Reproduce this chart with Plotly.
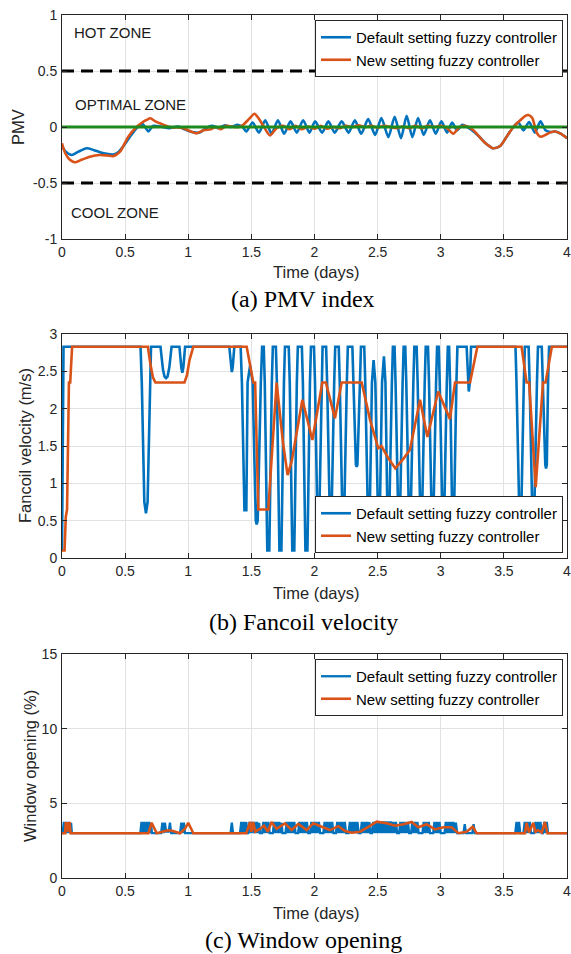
import plotly.graph_objects as go

# ---------------- data ----------------
# (a) PMV index
pmv_default_t = [0.000, 0.030, 0.077, 0.130, 0.195, 0.250, 0.300, 0.354, 0.406, 0.450, 0.500, 0.550,
                 0.600, 0.640, 0.684, 0.720, 0.780, 0.850, 0.920, 0.970, 1.030, 1.090, 1.140, 1.190,
                 1.240, 1.290, 1.340, 1.390, 1.430,
                 1.460, 1.510, 1.560, 1.610, 1.660, 1.710, 1.760, 1.810, 1.860, 1.910, 1.960, 2.005,
                 2.060, 2.110, 2.160, 2.215, 2.270, 2.320, 2.370, 2.425, 2.480, 2.530, 2.585, 2.635,
                 2.685, 2.730, 2.775, 2.820, 2.865, 2.915, 2.960, 3.005, 3.050, 3.090, 3.130, 3.170,
                 3.210, 3.250, 3.300, 3.350, 3.416, 3.470, 3.520, 3.575, 3.615, 3.655, 3.700, 3.745,
                 3.790, 3.830, 3.870, 3.910, 3.950, 4.000]
pmv_default_v = [-0.17, -0.22, -0.25, -0.22, -0.19, -0.205, -0.225, -0.24, -0.245, -0.22, -0.15, -0.07,
                 0.00, 0.025, -0.04, 0.01, 0.005, -0.01, 0.005, -0.02, -0.045, -0.05, -0.01, 0.01,
                 -0.01, 0.015, 0.00, 0.02, 0.00,
                 -0.04, 0.04, -0.05, 0.06, -0.06, 0.06, -0.06, 0.05, -0.05, 0.06, -0.05, 0.05,
                 -0.05, 0.05, -0.05, 0.05, -0.05, 0.06, -0.06, 0.07, -0.07, 0.08, -0.09, 0.09,
                 -0.10, 0.10, -0.09, 0.08, -0.07, 0.06, -0.06, 0.05, -0.05, 0.04, -0.03, 0.02,
                 0.00, -0.03, -0.08, -0.14, -0.19, -0.17, -0.09, 0.00, 0.04, -0.03, 0.045, -0.05,
                 0.05, -0.03, -0.045, -0.04, -0.06, -0.10]

pmv_new_t = [0.000, 0.024, 0.060, 0.103, 0.160, 0.220, 0.300, 0.360, 0.406, 0.460, 0.525, 0.590,
             0.635, 0.670, 0.700, 0.740, 0.776, 0.855, 0.960, 1.020, 1.067, 1.120, 1.180, 1.220,
             1.260, 1.300, 1.360, 1.400, 1.436, 1.480, 1.525, 1.555, 1.590, 1.647, 1.700, 1.754,
             1.800, 1.850, 1.900, 1.950, 2.000, 2.050, 2.100, 2.150, 2.200, 2.250, 2.300, 2.350,
             2.400, 2.450, 2.500, 2.550, 2.600, 2.650, 2.700, 2.750, 2.800, 2.850, 2.900, 2.950,
             3.000, 3.050, 3.100, 3.140, 3.180, 3.220, 3.260, 3.300, 3.350, 3.416, 3.470, 3.520,
             3.575, 3.630, 3.670, 3.695, 3.725, 3.760, 3.790, 3.830, 3.865, 3.905, 3.950, 4.000]
pmv_new_v = [-0.146, -0.23, -0.29, -0.315, -0.29, -0.265, -0.25, -0.255, -0.26, -0.22, -0.087, 0.00,
             0.04, 0.063, 0.078, 0.05, 0.033, 0.00, -0.01, -0.04, -0.057, -0.03, -0.02, 0.00,
             -0.02, 0.01, 0.00, 0.00, 0.02, 0.07, 0.118, 0.08, 0.02, -0.075, -0.01, 0.01,
             -0.02, 0.01, -0.02, 0.005, -0.015, 0.01, -0.015, 0.00, -0.01, 0.01, 0.00, 0.015,
             0.00, 0.01, -0.005, 0.01, 0.00, -0.01, 0.005, -0.01, 0.01, -0.01, 0.01, 0.00,
             0.01, -0.01, -0.06, -0.01, 0.01, 0.00, -0.03, -0.08, -0.14, -0.19, -0.17, -0.09,
             0.00, 0.06, 0.10, 0.107, 0.08, -0.05, -0.087, -0.07, -0.05, -0.04, -0.06, -0.10]

zone_limits = [0.5, -0.5]
optimal_pmv = 0.0
x_span = [0, 4]

# (b) Fancoil velocity
fan_default_t = [0.000, 0.012,
                 0.622, 0.632, 0.652, 0.665, 0.678, 0.695, 0.705,
                 0.780, 0.800, 0.812, 0.824, 0.836, 0.850, 0.868,
                 0.930, 0.945, 0.953, 0.961, 0.975,
                 1.325, 1.338, 1.345, 1.352, 1.365,
                 1.415, 1.425, 1.445, 1.460, 1.470, 1.490,
                 1.510, 1.535, 1.542, 1.550, 1.575, 1.585,
                 1.598, 1.606, 1.626, 1.642, 1.662, 1.670,
                 1.694, 1.702, 1.722, 1.738, 1.758, 1.766,
                 1.796, 1.804, 1.824, 1.840, 1.860, 1.868,
                 1.900, 1.908, 1.928, 1.944, 1.964, 1.972,
                 1.996, 2.004, 2.024, 2.030, 2.036, 2.056, 2.064,
                 2.092, 2.100, 2.120, 2.136, 2.156, 2.164,
                 2.192, 2.200, 2.220, 2.236, 2.256, 2.264,
                 2.300, 2.308, 2.328, 2.334, 2.340, 2.360, 2.368,
                 2.394, 2.402, 2.422, 2.438, 2.455, 2.468,
                 2.482, 2.502, 2.518, 2.535, 2.550,
                 2.562, 2.577, 2.593, 2.613, 2.621,
                 2.634, 2.642, 2.662, 2.678, 2.698, 2.706,
                 2.719, 2.727, 2.747, 2.763, 2.783, 2.791,
                 2.809, 2.817, 2.837, 2.853, 2.873, 2.881,
                 2.899, 2.907, 2.927, 2.943, 2.963, 2.971,
                 2.984, 2.992, 3.012, 3.028, 3.048, 3.056,
                 3.066, 3.074, 3.090, 3.106, 3.124, 3.132,
                 3.205, 3.214, 3.222, 3.230, 3.240,
                 3.592, 3.600, 3.622, 3.638, 3.658, 3.666,
                 3.696, 3.704, 3.725, 3.741, 3.762, 3.770,
                 3.800, 3.808, 3.828, 3.834, 3.840, 3.850, 3.858,
                 4.000]
fan_default_v = [0.10, 2.83,
                 2.83, 2.35, 0.75, 0.60, 0.75, 2.35, 2.83,
                 2.83, 2.52, 2.43, 2.41, 2.43, 2.55, 2.83,
                 2.83, 2.55, 2.48, 2.55, 2.83,
                 2.83, 2.55, 2.49, 2.55, 2.83,
                 2.83, 2.35, 0.64, 0.64, 2.35, 2.58,
                 2.35, 0.50, 0.45, 0.50, 2.35, 2.83,
                 2.83, 2.35, 0.10, 0.10, 2.35, 2.83,
                 2.83, 2.35, 0.10, 0.10, 2.35, 2.83,
                 2.83, 2.35, 0.10, 0.10, 2.35, 2.83,
                 2.83, 2.35, 0.10, 0.10, 2.35, 2.83,
                 2.83, 2.35, 0.40, 0.37, 0.40, 2.35, 2.83,
                 2.83, 2.35, 0.65, 0.65, 2.35, 2.83,
                 2.83, 2.35, 0.65, 0.65, 2.35, 2.83,
                 2.83, 2.35, 1.25, 1.22, 1.25, 2.35, 2.83,
                 2.83, 2.35, 0.65, 0.65, 2.35, 2.65,
                 2.35, 0.65, 0.65, 2.35, 2.70,
                 2.35, 0.65, 0.65, 2.35, 2.83,
                 2.83, 2.35, 0.65, 0.65, 2.35, 2.83,
                 2.83, 2.35, 0.65, 0.65, 2.35, 2.83,
                 2.83, 2.35, 0.65, 0.65, 2.35, 2.83,
                 2.83, 2.35, 0.65, 0.65, 2.35, 2.83,
                 2.83, 2.35, 0.65, 0.65, 2.35, 2.83,
                 2.83, 2.35, 0.65, 0.65, 2.35, 2.83,
                 2.83, 2.35, 2.23, 2.35, 2.83,
                 2.83, 2.35, 0.62, 0.62, 2.35, 2.83,
                 2.83, 2.35, 0.62, 0.62, 2.35, 2.83,
                 2.83, 2.35, 1.25, 1.20, 1.25, 2.35, 2.83,
                 2.83]

fan_new_t = [0.000, 0.020, 0.030, 0.040, 0.055, 0.065, 0.080,
             0.680, 0.700, 0.720, 0.740, 0.970, 0.990, 1.010, 1.040,
             1.463, 1.515, 1.530, 1.555, 1.634, 1.700, 1.750, 1.787, 1.820, 1.904, 1.983, 2.062,
             2.090, 2.162, 2.215, 2.374, 2.440, 2.505, 2.530, 2.580, 2.640, 2.705, 2.756, 2.836,
             2.894, 2.980, 3.073, 3.113, 3.232, 3.290, 3.640, 3.680, 3.700, 3.752, 3.810, 3.830,
             3.880, 4.000]
fan_new_v = [0.10, 0.10, 0.55, 0.65, 2.35, 2.35, 2.83,
             2.83, 2.60, 2.42, 2.35, 2.35, 2.45, 2.65, 2.83,
             2.83, 2.35, 2.35, 0.65, 0.65, 2.35, 1.55, 1.11, 1.30, 2.12, 1.58, 2.35,
             2.35, 1.87, 2.35, 2.35, 1.85, 1.47, 1.50, 1.35, 1.20, 1.33, 1.45, 2.12,
             1.62, 2.23, 1.86, 2.35, 2.35, 2.83, 2.83, 2.35, 2.35, 0.95, 2.35, 2.35,
             2.83, 2.83]

# (c) Window opening
win_default_t = [0.000, 0.005, 0.015, 0.025, 0.035, 0.045, 0.055, 0.065, 0.072, 0.078,
                 0.620, 0.630, 0.640, 0.650, 0.660, 0.670, 0.680, 0.690, 0.700, 0.706, 0.712,
                 0.785, 0.795, 0.805, 0.815, 0.825, 0.845, 0.855, 0.865, 0.872,
                 0.935, 0.945, 0.955, 0.965, 0.975,
                 1.335, 1.345, 1.355,
                 1.410, 1.420, 1.430, 1.440, 1.450, 1.460, 1.468,
                 1.475, 1.485, 1.495, 1.505, 1.515, 1.525, 1.535, 1.545, 1.555, 1.562, 1.568,
                 1.585, 1.595, 1.605, 1.615, 1.625, 1.635, 1.645,
                 1.670, 1.680, 1.690, 1.700, 1.710, 1.720, 1.730, 1.740, 1.746,
                 1.770, 1.780, 1.790, 1.800, 1.810, 1.820, 1.830, 1.840, 1.850,
                 1.870, 1.880, 1.890, 1.900, 1.910, 1.920, 1.930, 1.940, 1.950,
                 1.965, 1.975, 1.985, 1.995, 2.005, 2.015, 2.025, 2.035, 2.045,
                 2.070, 2.080, 2.090, 2.100, 2.110, 2.120, 2.130, 2.140, 2.150,
                 2.170, 2.180, 2.190, 2.200, 2.210, 2.220, 2.230, 2.240, 2.250,
                 2.270, 2.280, 2.290, 2.300, 2.310, 2.320, 2.330, 2.340, 2.350,
                 2.365, 2.375, 2.385, 2.395, 2.405, 2.415, 2.425, 2.435, 2.443,
                 2.455, 2.465, 2.475, 2.485, 2.495, 2.505, 2.515, 2.525, 2.535, 2.545, 2.555,
                 2.565, 2.575, 2.585, 2.595, 2.605, 2.615, 2.625, 2.635, 2.645, 2.655,
                 2.670, 2.680, 2.690, 2.700, 2.710, 2.720, 2.730, 2.740, 2.750,
                 2.765, 2.775, 2.785, 2.795, 2.805, 2.815, 2.825, 2.835,
                 2.855, 2.865, 2.875, 2.885, 2.895, 2.905, 2.915, 2.925,
                 2.940, 2.950, 2.960, 2.970, 2.980, 2.990, 3.000, 3.010,
                 3.030, 3.040, 3.050, 3.060, 3.070, 3.080, 3.090, 3.100, 3.110, 3.120, 3.130,
                 3.180, 3.190, 3.200,
                 3.250, 3.260, 3.270,
                 3.590, 3.600, 3.610, 3.620, 3.630, 3.640,
                 3.655, 3.665, 3.675, 3.685, 3.695, 3.705, 3.715, 3.722,
                 3.740, 3.750, 3.760, 3.770, 3.780, 3.790, 3.800,
                 3.810, 3.820, 3.830, 3.840, 3.850, 3.856,
                 4.000]
win_default_v = [3.0, 3.0, 3.75, 3.0, 3.75, 3.0, 3.75, 3.0, 3.7, 3.0,
                 3.0, 3.75, 3.0, 3.75, 3.0, 3.75, 3.0, 3.75, 3.0, 3.7, 3.0,
                 3.0, 3.7, 3.0, 3.7, 3.1, 3.1, 3.7, 3.0, 3.0,
                 3.0, 3.7, 3.0, 3.7, 3.0,
                 3.0, 3.7, 3.0,
                 3.0, 3.75, 3.0, 3.75, 3.0, 3.75, 3.0,
                 3.0, 3.75, 3.0, 3.75, 3.0, 3.75, 3.0, 3.75, 3.0, 3.7, 3.0,
                 3.0, 3.75, 3.0, 3.75, 3.0, 3.75, 3.0,
                 3.0, 3.75, 3.0, 3.75, 3.0, 3.75, 3.0, 3.7, 3.0,
                 3.0, 3.75, 3.0, 3.75, 3.0, 3.75, 3.0, 3.75, 3.0,
                 3.0, 3.75, 3.0, 3.75, 3.0, 3.75, 3.0, 3.75, 3.0,
                 3.0, 3.75, 3.0, 3.75, 3.0, 3.75, 3.0, 3.75, 3.0,
                 3.0, 3.75, 3.0, 3.75, 3.0, 3.75, 3.0, 3.75, 3.0,
                 3.0, 3.75, 3.0, 3.75, 3.0, 3.75, 3.0, 3.75, 3.0,
                 3.0, 3.75, 3.0, 3.75, 3.0, 3.75, 3.0, 3.75, 3.0,
                 3.0, 3.75, 3.0, 3.75, 3.0, 3.75, 3.0, 3.75, 3.0,
                 3.0, 3.75, 3.0, 3.8, 3.0, 3.8, 3.0, 3.8, 3.0, 3.8, 3.0,
                 3.8, 3.0, 3.8, 3.0, 3.8, 3.0, 3.75, 3.0, 3.75, 3.0,
                 3.0, 3.75, 3.0, 3.75, 3.0, 3.75, 3.0, 3.75, 3.0,
                 3.0, 3.75, 3.0, 3.75, 3.0, 3.75, 3.0, 3.0,
                 3.0, 3.75, 3.0, 3.75, 3.0, 3.75, 3.0, 3.0,
                 3.0, 3.75, 3.0, 3.75, 3.0, 3.75, 3.0, 3.0,
                 3.0, 3.75, 3.0, 3.75, 3.0, 3.75, 3.0, 3.75, 3.0, 3.7, 3.0,
                 3.0, 3.6, 3.0,
                 3.0, 3.6, 3.0,
                 3.0, 3.75, 3.0, 3.75, 3.0, 3.0,
                 3.0, 3.75, 3.0, 3.75, 3.0, 3.75, 3.0, 3.0,
                 3.0, 3.75, 3.0, 3.75, 3.0, 3.75, 3.0,
                 3.0, 3.75, 3.0, 3.75, 3.0, 3.0,
                 3.0]

win_new_t = [0.000, 0.025, 0.030, 0.038, 0.045, 0.052, 0.060, 0.068,
             0.685, 0.710, 0.750, 0.800, 0.840, 0.880, 0.935, 0.975, 1.000, 1.040,
             1.460, 1.490, 1.500, 1.515, 1.530, 1.570, 1.600, 1.630, 1.660, 1.700,
             1.727, 1.766, 1.819, 1.872, 1.938, 1.991, 2.057, 2.123, 2.189, 2.242, 2.295, 2.360,
             2.427, 2.493, 2.572, 2.638, 2.704, 2.770, 2.822, 2.888, 2.954, 3.020, 3.086, 3.139,
             3.205, 3.253, 3.284, 3.667, 3.680, 3.700, 3.733, 3.750, 3.770, 3.800, 3.825, 3.845,
             4.000]
win_new_v = [3.0, 3.0, 3.75, 3.1, 3.75, 3.1, 3.75, 3.0,
             3.0, 3.7, 3.0, 3.1, 3.2, 3.15, 3.0, 3.3, 3.7, 3.0,
             3.0, 3.75, 3.1, 3.75, 3.1, 3.3, 3.5, 3.1, 3.75, 3.3,
             3.43, 3.66, 3.21, 3.62, 3.21, 3.66, 3.43, 3.21, 3.47, 3.15, 3.03, 3.10,
             3.43, 3.77, 3.66, 3.50, 3.60, 3.75, 3.40, 3.60, 3.25, 3.40, 3.40, 3.00,
             3.10, 3.43, 3.00, 3.00, 3.70, 3.05, 3.70, 3.10, 3.20, 3.05, 3.75, 3.00,
             3.00]

series_names = ["Default setting fuzzy controller", "New setting fuzzy controller"]
x_ticks = [0, 0.5, 1, 1.5, 2, 2.5, 3, 3.5, 4]
x_ticklabels = ["0", "0.5", "1", "1.5", "2", "2.5", "3", "3.5", "4"]
pmv_ticks = [-1, -0.5, 0, 0.5, 1]
pmv_ticklabels = ["-1", "-0.5", "0", "0.5", "1"]
fan_ticks = [0, 0.5, 1, 1.5, 2, 2.5, 3]
fan_ticklabels = ["0", "0.5", "1", "1.5", "2", "2.5", "3"]
win_ticks = [0, 5, 10, 15]
win_ticklabels = ["0", "5", "10", "15"]

# ---------------- styling ----------------
W, H = 571, 954
BLUE = "#0072BD"
ORANGE = "#D95319"
AX = "#262626"
SANS = "Liberation Sans, Arial, sans-serif"
SERIF = "Liberation Serif, Times New Roman, serif"

def px_x(p):
    return p / W

def px_y(p):
    return 1 - p / H

x_dom = [px_x(62), px_x(567)]
y_doms = [[px_y(239), px_y(15)], [px_y(558), px_y(334)], [px_y(878), px_y(654)]]

fig = go.Figure()

panels = [
    ("x", "y", "legend", pmv_default_t, pmv_default_v, pmv_new_t, pmv_new_v, "spline"),
    ("x2", "y2", "legend2", fan_default_t, fan_default_v, fan_new_t, fan_new_v, "linear"),
    ("x3", "y3", "legend3", win_default_t, win_default_v, win_new_t, win_new_v, "linear"),
]
for xa, ya, lg, t1, v1, t2, v2, shape in panels:
    w1 = 2.3 if xa == "x3" else 2.6
    fig.add_trace(go.Scatter(x=t1, y=v1, mode="lines", name=series_names[0], legend=lg,
                             line=dict(color=BLUE, width=w1, shape=shape, smoothing=0.7),
                             xaxis=xa, yaxis=ya))
    fig.add_trace(go.Scatter(x=t2, y=v2, mode="lines", name=series_names[1], legend=lg,
                             line=dict(color=ORANGE, width=2.6, shape=shape, smoothing=0.7),
                             xaxis=xa, yaxis=ya))

# optimal line and zone limits on panel (a)
fig.add_trace(go.Scatter(x=x_span, y=[optimal_pmv, optimal_pmv], mode="lines", showlegend=False,
                         line=dict(color="#1d8a1d", width=3), xaxis="x", yaxis="y"))
for lim in zone_limits:
    fig.add_trace(go.Scatter(x=x_span, y=[lim, lim], mode="lines", showlegend=False,
                             line=dict(color="black", width=2.8, dash="12px,7px"),
                             xaxis="x", yaxis="y"))

def axis_style(**kw):
    d = dict(showline=True, linecolor=AX, linewidth=1, mirror="ticks", ticks="inside",
             ticklen=5, tickcolor=AX, tickwidth=1, showgrid=True, gridcolor="#e2e2e2",
             gridwidth=1, zeroline=False, automargin=False, ticklabeloverflow="allow",
             tickfont=dict(family=SANS, size=14, color=AX))
    d.update(kw)
    return d

layout = dict(width=W, height=H, margin=dict(l=0, r=0, t=0, b=0),
              paper_bgcolor="white", plot_bgcolor="white", template="none",
              showlegend=True)
for i, (xa, ya) in enumerate([("xaxis", "yaxis"), ("xaxis2", "yaxis2"), ("xaxis3", "yaxis3")]):
    suffix = "" if i == 0 else str(i + 1)
    layout[xa] = axis_style(domain=x_dom, anchor="y" + suffix, range=[0, 4],
                            tickvals=x_ticks, ticktext=x_ticklabels)
yr = [[-1, 1], [0, 3], [0, 15]]
yt = [(pmv_ticks, pmv_ticklabels), (fan_ticks, fan_ticklabels), (win_ticks, win_ticklabels)]
for i, ya in enumerate(["yaxis", "yaxis2", "yaxis3"]):
    suffix = "" if i == 0 else str(i + 1)
    layout[ya] = axis_style(domain=y_doms[i], anchor="x" + suffix, range=yr[i],
                            tickvals=yt[i][0], ticktext=yt[i][1], ticklabelstandoff=1)

leg_common = dict(bgcolor="white", bordercolor=AX, borderwidth=1,
                  font=dict(family=SANS, size=15, color="black"),
                  xanchor="right", x=px_x(563), tracegroupgap=0, itemwidth=30)
layout["legend"] = dict(leg_common, y=px_y(20), yanchor="top")
layout["legend2"] = dict(leg_common, y=px_y(553), yanchor="bottom")
layout["legend3"] = dict(leg_common, y=px_y(659), yanchor="top")

ann = []
def txt(text, x, y, size, family=SANS, xanchor="center", angle=0, color="black"):
    ann.append(dict(text=text, x=px_x(x), y=px_y(y), xref="paper", yref="paper",
                    showarrow=False, xanchor=xanchor, yanchor="middle", textangle=angle,
                    font=dict(family=family, size=size, color=color)))

# zone labels
txt("HOT ZONE", 72, 32, 15, xanchor="left", color="#1a1a1a")
txt("OPTIMAL ZONE", 73, 105, 15, xanchor="left", color="#1a1a1a")
txt("COOL ZONE", 69, 212, 15, xanchor="left", color="#1a1a1a")
# axis titles
txt("PMV", 18, 127, 16.5, angle=-90, color=AX)
txt("Fancoil velocity (m/s)", 25, 446, 16.5, angle=-90, color=AX)
txt("Window opening (%)", 30, 766, 16.5, angle=-90, color=AX)
for yy in (272, 593, 913):
    txt("Time (days)", 316, yy, 16.5, color=AX)
# captions
txt("(a) PMV index", 303, 299, 24, family=SERIF)
txt("(b) Fancoil velocity", 303, 622, 24, family=SERIF)
txt("(c) Window opening", 303, 940, 24, family=SERIF)
layout["annotations"] = ann

fig.update_layout(**layout)
fig.write_html("out.html",
               config={"displayModeBar": False},
               post_script="document.body.style.margin='0px';"
                           "document.body.style.overflow='hidden';"
                           "document.documentElement.style.overflow='hidden';")
